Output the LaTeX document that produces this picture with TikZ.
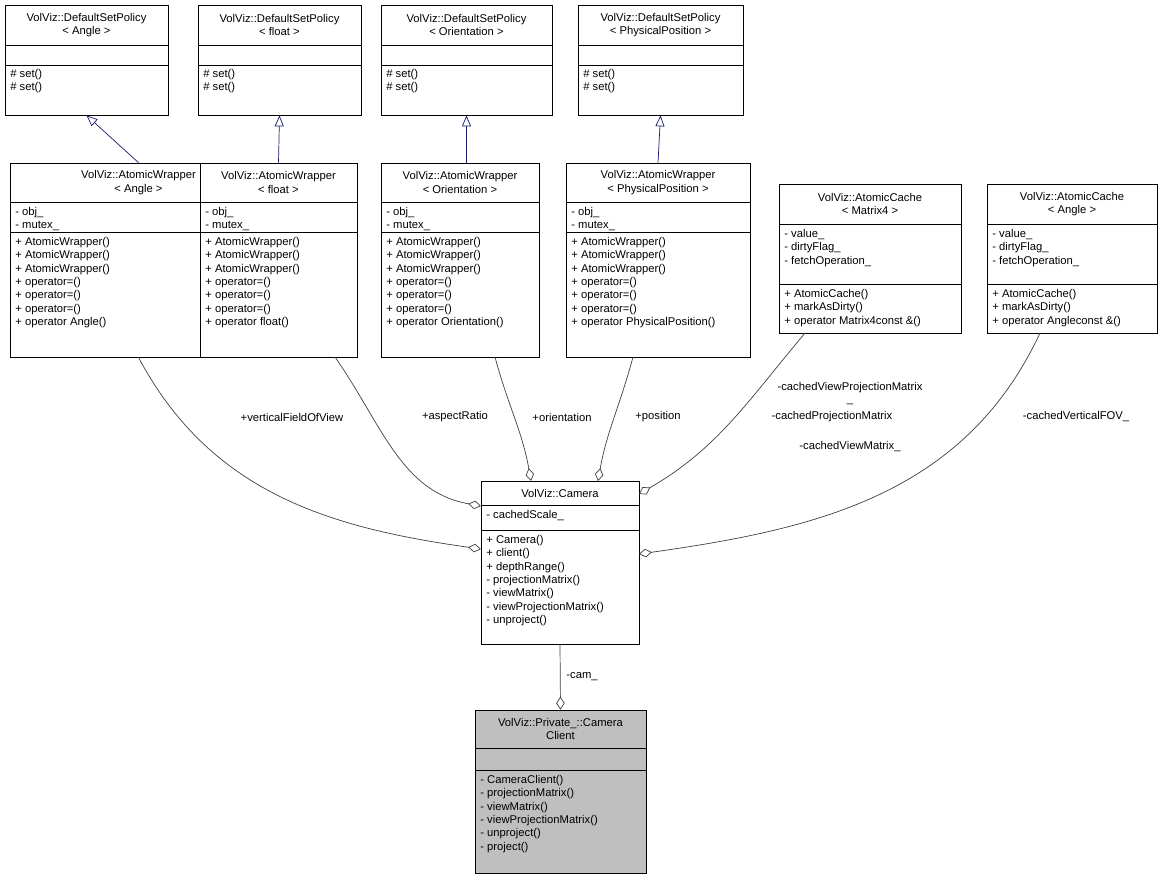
\documentclass[tikz,border=0pt]{standalone}
\usepackage{fontspec}
\setmainfont{Liberation Sans}
\usetikzlibrary{arrows.meta,fit,calc}
\definecolor{edgegray}{HTML}{404040}
\definecolor{boxgray}{HTML}{BFBFBF}
\definecolor{inhblue}{HTML}{191970}

% class box: name, x1, y1, x2, y2, first split, second split, fill
\newcommand{\umlbox}[8]{%
  \path (#2,#3) coordinate (#1-nw) (#4,#5) coordinate (#1-se);
  \node[fit=(#1-nw)(#1-se),inner sep=0pt,draw,fill=#8] (#1) {};
  \draw (#2,#6) -- (#4,#6);
  \draw (#2,#7) -- (#4,#7);
}

\begin{document}
\begin{tikzpicture}[x=0.02cm,y=-0.02cm,
  txt/.style={inner sep=0pt,font=\fontsize{6.4}{7.6}\selectfont,align=left,anchor=north west},
  ttl/.style={inner sep=0pt,font=\fontsize{6.4}{7.6}\selectfont,align=center},
  inherit/.style={draw=inhblue,-{Triangle[open,length=0.22cm,width=0.18cm]}},
  member/.style={draw=edgegray,-{Diamond[open,length=0.26cm,width=0.17cm]}},
  lbl/.style={inner sep=0pt,font=\fontsize{6.4}{7.6}\selectfont,align=center}]
\useasboundingbox (0,0) rectangle (1163,880);

% base policies
\umlbox{dspA}{5}{5}{168}{115}{45}{65}{white}
\umlbox{dspF}{198}{5}{361}{115}{45}{65}{white}
\umlbox{dspO}{381}{5}{552}{115}{45}{65}{white}
\umlbox{dspP}{578}{5}{743}{115}{45}{65}{white}
\node[ttl] at (86.5,25) {VolViz::DefaultSetPolicy\\< Angle >};
\node[ttl] at (279.5,25) {VolViz::DefaultSetPolicy\\< float >};
\node[ttl] at (466.5,25) {VolViz::DefaultSetPolicy\\< Orientation >};
\node[ttl] at (660.5,25) {VolViz::DefaultSetPolicy\\< PhysicalPosition >};
\node[txt] at (10,69) {\# set()\\\# set()};
\node[txt] at (203,69) {\# set()\\\# set()};
\node[txt] at (386,69) {\# set()\\\# set()};
\node[txt] at (583,69) {\# set()\\\# set()};

% wrappers
\umlbox{awA}{10}{163}{267}{357}{202}{232}{white}
\umlbox{awF}{200}{163}{357}{357}{202}{232}{white}
\umlbox{awO}{381}{163}{539}{357}{202}{232}{white}
\umlbox{awP}{566}{163}{750}{357}{202}{232}{white}
\node[ttl] at (138.5,182.5) {VolViz::AtomicWrapper\\< Angle >};
\node[ttl] at (278.5,182.5) {VolViz::AtomicWrapper\\< float >};
\node[ttl] at (460,182.5) {VolViz::AtomicWrapper\\< Orientation >};
\node[ttl] at (658,182.5) {VolViz::AtomicWrapper\\< PhysicalPosition >};
\node[txt] at (15,207) {- obj\_\\- mutex\_};
\node[txt] at (205,207) {- obj\_\\- mutex\_};
\node[txt] at (386,207) {- obj\_\\- mutex\_};
\node[txt] at (571,207) {- obj\_\\- mutex\_};
\node[txt] at (15,237) {+ AtomicWrapper()\\+ AtomicWrapper()\\+ AtomicWrapper()\\+ operator=()\\+ operator=()\\+ operator=()\\+ operator Angle()};
\node[txt] at (205,237) {+ AtomicWrapper()\\+ AtomicWrapper()\\+ AtomicWrapper()\\+ operator=()\\+ operator=()\\+ operator=()\\+ operator float()};
\node[txt] at (386,237) {+ AtomicWrapper()\\+ AtomicWrapper()\\+ AtomicWrapper()\\+ operator=()\\+ operator=()\\+ operator=()\\+ operator Orientation()};
\node[txt] at (571,237) {+ AtomicWrapper()\\+ AtomicWrapper()\\+ AtomicWrapper()\\+ operator=()\\+ operator=()\\+ operator=()\\+ operator PhysicalPosition()};

% caches
\umlbox{acM}{779}{184}{961}{333}{224}{284}{white}
\umlbox{acA}{987}{184}{1157}{333}{224}{284}{white}
\node[ttl] at (870,204) {VolViz::AtomicCache\\< Matrix4 >};
\node[ttl] at (1072,204) {VolViz::AtomicCache\\< Angle >};
\node[txt] at (784,229) {- value\_\\- dirtyFlag\_\\- fetchOperation\_};
\node[txt] at (992,229) {- value\_\\- dirtyFlag\_\\- fetchOperation\_};
\node[txt] at (784,289) {+ AtomicCache()\\+ markAsDirty()\\+ operator Matrix4const \&()};
\node[txt] at (992,289) {+ AtomicCache()\\+ markAsDirty()\\+ operator Angleconst \&()};

% camera
\umlbox{cam}{481}{481}{639}{644}{505}{530}{white}
\node[ttl] at (560,493) {VolViz::Camera};
\node[txt] at (486,510) {- cachedScale\_};
\node[txt] at (486,535) {+ Camera()\\+ client()\\+ depthRange()\\- projectionMatrix()\\- viewMatrix()\\- viewProjectionMatrix()\\- unproject()};

% camera client
\umlbox{cc}{475}{710}{646}{873}{748}{770}{boxgray}
\node[ttl] at (560.5,729) {VolViz::Private\_::Camera\\Client};
\node[txt] at (480,775) {- CameraClient()\\- projectionMatrix()\\- viewMatrix()\\- viewProjectionMatrix()\\- unproject()\\- project()};

% inheritance
\draw[inherit] (awA.north) -- (dspA.south);
\draw[inherit] (awF.north) -- (dspF.south);
\draw[inherit] (awO.north -| dspO.south) -- (dspO.south);
\draw[inherit] (awP.north) -- (dspP.south);

% members
\coordinate (fSrc) at (335,357);
\coordinate (oSrc) at (495,357);
\coordinate (pSrc) at (633,357);
\coordinate (mSrc) at (805,333);
\coordinate (aSrc) at (1040,333);
\coordinate (camA) at (481,549);
\coordinate (camF) at (481,506);
\coordinate (camO) at (531,481);
\coordinate (camP) at (598,481);
\coordinate (camM) at (639,494);
\coordinate (camC) at (639,554);
\draw[member] (awA.south) to[out=-62,in=172] (camA);
\draw[member] (fSrc) to[out=-55,in=170] (camF);
\draw[member] (oSrc) to[out=-75,in=100] (camO);
\draw[member] (pSrc) to[out=-105,in=80] (camP);
\draw[member] (mSrc) to[out=-130,in=30] (camM);
\draw[member] (aSrc) to[out=-115,in=8] (camC);
\draw[member] (cam.south) -- (cc.north);

% labels
\node[lbl] at (292,417) {+verticalFieldOfView};
\node[lbl] at (455,417) {+aspectRatio};
\node[lbl] at (562,417) {+orientation};
\node[lbl] at (658,417) {+position};
\node[lbl] at (850,388) {-cachedViewProjectionMatrix};
\node[lbl] at (850,404) {\_};
\node[lbl] at (832,417) {-cachedProjectionMatrix};
\node[lbl] at (850,447) {-cachedViewMatrix\_};
\node[lbl] at (1076,417) {-cachedVerticalFOV\_};
\node[lbl] at (582,677) {-cam\_};
\end{tikzpicture}
\end{document}
